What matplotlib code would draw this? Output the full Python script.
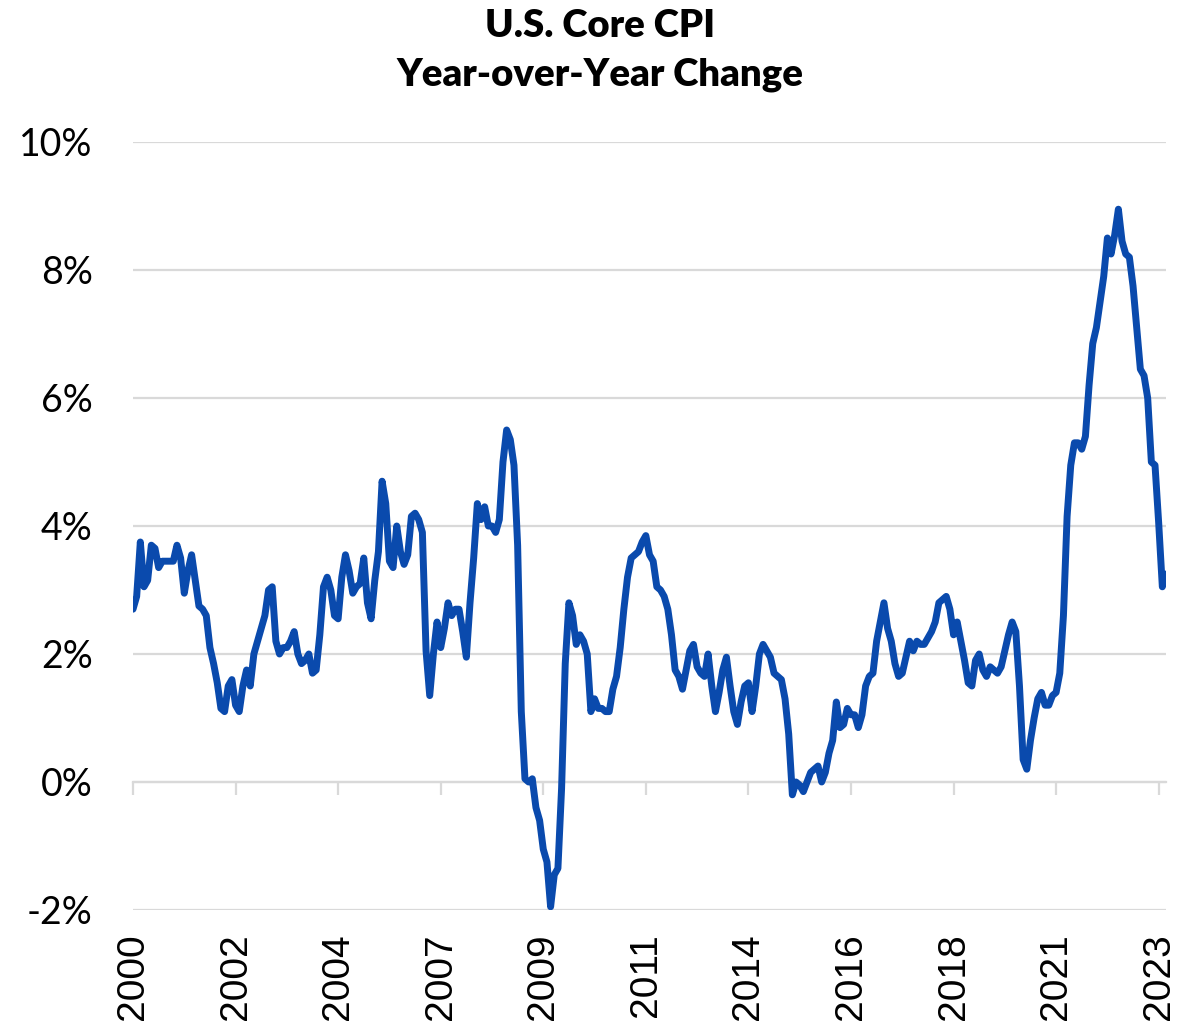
import matplotlib
matplotlib.use('Agg')
import matplotlib.pyplot as plt

# monthly YoY change (%), Jan 2000 - Jul 2023
cpi_2000 = [2.7, 2.9, 3.75, 3.05, 3.15, 3.7, 3.65, 3.35, 3.45, 3.45, 3.45, 3.45]
cpi_2001 = [3.7, 3.5, 2.95, 3.3, 3.55, 3.15, 2.75, 2.7, 2.6, 2.1, 1.85, 1.55]
cpi_2002 = [1.15, 1.1, 1.5, 1.6, 1.2, 1.1, 1.5, 1.75, 1.5, 2.0, 2.2, 2.4]
cpi_2003 = [2.6, 3.0, 3.05, 2.2, 2.0, 2.1, 2.1, 2.2, 2.35, 2.0, 1.85, 1.9]
cpi_2004 = [2.0, 1.7, 1.75, 2.3, 3.05, 3.2, 3.0, 2.6, 2.55, 3.2, 3.55, 3.3]
cpi_2005 = [2.95, 3.05, 3.1, 3.5, 2.8, 2.55, 3.15, 3.6, 4.7, 4.35, 3.45, 3.35]
cpi_2006 = [4.0, 3.6, 3.4, 3.55, 4.15, 4.2, 4.1, 3.9, 2.05, 1.35, 2.0, 2.5]
cpi_2007 = [2.1, 2.4, 2.8, 2.6, 2.7, 2.7, 2.35, 1.95, 2.8, 3.5, 4.35, 4.1]
cpi_2008 = [4.3, 4.0, 4.0, 3.9, 4.1, 5.0, 5.5, 5.35, 4.95, 3.7, 1.1, 0.05]
cpi_2009 = [0.0, 0.05, -0.4, -0.6, -1.05, -1.25, -1.95, -1.45, -1.35, -0.1, 1.85, 2.8]
cpi_2010 = [2.6, 2.15, 2.3, 2.2, 2.0, 1.1, 1.3, 1.15, 1.15, 1.1, 1.1, 1.45]
cpi_2011 = [1.65, 2.1, 2.7, 3.2, 3.5, 3.55, 3.6, 3.75, 3.85, 3.55, 3.45, 3.05]
cpi_2012 = [3.0, 2.9, 2.7, 2.3, 1.75, 1.65, 1.45, 1.75, 2.05, 2.15, 1.8, 1.7]
cpi_2013 = [1.65, 2.0, 1.5, 1.1, 1.4, 1.75, 1.95, 1.5, 1.1, 0.9, 1.25, 1.5]
cpi_2014 = [1.55, 1.1, 1.5, 2.0, 2.15, 2.05, 1.95, 1.7, 1.65, 1.6, 1.3, 0.75]
cpi_2015 = [-0.2, 0.0, -0.05, -0.15, 0.0, 0.15, 0.2, 0.25, 0.0, 0.15, 0.45, 0.65]
cpi_2016 = [1.25, 0.85, 0.9, 1.15, 1.05, 1.05, 0.85, 1.05, 1.5, 1.65, 1.7, 2.2]
cpi_2017 = [2.5, 2.8, 2.4, 2.2, 1.85, 1.65, 1.7, 1.95, 2.2, 2.05, 2.2, 2.15]
cpi_2018 = [2.15, 2.25, 2.35, 2.5, 2.8, 2.85, 2.9, 2.7, 2.3, 2.5, 2.2, 1.9]
cpi_2019 = [1.55, 1.5, 1.9, 2.0, 1.75, 1.65, 1.8, 1.75, 1.7, 1.8, 2.05, 2.3]
cpi_2020 = [2.5, 2.35, 1.5, 0.35, 0.2, 0.65, 1.0, 1.3, 1.4, 1.2, 1.2, 1.35]
cpi_2021 = [1.4, 1.7, 2.6, 4.15, 4.95, 5.3, 5.3, 5.2, 5.4, 6.2, 6.85, 7.1]
cpi_2022 = [7.5, 7.9, 8.5, 8.25, 8.55, 8.95, 8.45, 8.25, 8.2, 7.75, 7.1, 6.45]
cpi_2023 = [6.35, 6.0, 5.0, 4.95, 4.05, 3.05, 3.25]

yoy = (cpi_2000 + cpi_2001 + cpi_2002 + cpi_2003 + cpi_2004 + cpi_2005
       + cpi_2006 + cpi_2007 + cpi_2008 + cpi_2009 + cpi_2010 + cpi_2011
       + cpi_2012 + cpi_2013 + cpi_2014 + cpi_2015 + cpi_2016 + cpi_2017
       + cpi_2018 + cpi_2019 + cpi_2020 + cpi_2021 + cpi_2022 + cpi_2023)

# category axis labels, one every 28 months
tick_labels = ['2000', '2002', '2004', '2007', '2009', '2011',
               '2014', '2016', '2018', '2021', '2023']
tick_every = 28

y_ticks = [-2, 0, 2, 4, 6, 8, 10]

LINE_BLUE = '#0a4aad'
GRID_GREY = '#d9d9d9'


def plot_cpi(filename):
    fig = plt.figure(figsize=(12.03, 10.27), dpi=100)
    ax = fig.add_axes([133 / 1203, 1 - 910 / 1027, 1033 / 1203, 768 / 1027])

    months = list(range(len(yoy)))
    ax.plot(months, yoy, color=LINE_BLUE, lw=5,
            solid_joinstyle='round', solid_capstyle='round', zorder=3)

    ax.set_xlim(0, len(yoy) - 1)
    ax.set_ylim(y_ticks[0], y_ticks[-1])
    for s in ax.spines.values():
        s.set_visible(False)

    # y axis: percent labels, light grid
    ax.set_yticks(y_ticks)
    ax.set_yticklabels(['%d%%' % v for v in y_ticks], family='Lato', fontsize=27)
    ax.tick_params(axis='y', length=0, pad=29)
    ax.grid(axis='y', color=GRID_GREY, lw=1.6, zorder=0)

    # x labels sit below the plot, tick marks hang off the 0% line
    xt = list(range(0, len(yoy), tick_every))
    ax.set_xticks(xt)
    ax.set_xticklabels(tick_labels, rotation=90, family='Liberation Sans',
                       fontsize=28, va='top')
    ax.tick_params(axis='x', length=0, pad=17)

    zero_pos = (0 - y_ticks[0]) / (y_ticks[-1] - y_ticks[0])
    sec = ax.secondary_xaxis(zero_pos)
    sec.set_xticks(xt)
    sec.set_xticklabels([''] * len(xt))
    sec.tick_params(axis='x', length=9.5, width=1.6, color=GRID_GREY, direction='out')
    for s in sec.spines.values():
        s.set_color(GRID_GREY)
        s.set_linewidth(1.6)

    fig.text(0.499, 1 - 37 / 1027, 'U.S. Core CPI', ha='center', va='baseline',
             family='Lato', fontweight='heavy', fontsize=27.5)
    fig.text(0.499, 1 - 86 / 1027, 'Year-over-Year Change', ha='center', va='baseline',
             family='Lato', fontweight='heavy', fontsize=27.5)

    fig.savefig(filename, dpi=100)
    plt.close(fig)
    return filename


if __name__ == "__main__":
    plot_cpi('out.png')
